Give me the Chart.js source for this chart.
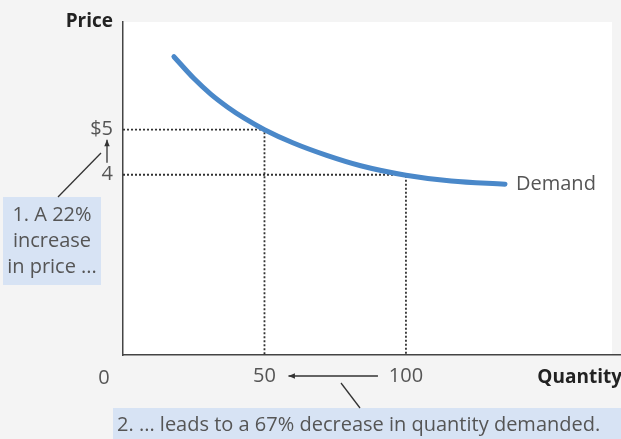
<!DOCTYPE html>
<html>
<head>
<meta charset="utf-8">
<script src="https://cdn.jsdelivr.net/npm/chart.js@4.4.0/dist/chart.umd.min.js"></script>
<style>
  html, body { margin: 0; padding: 0; background: #f4f4f4; }
  #wrap { width: 621px; height: 439px; }
</style>
</head>
<body>
<div id="wrap"><canvas id="demand" width="621" height="439"></canvas></div>
<script>
// demand curve
const quantity = [18, 25, 31, 37, 43, 50, 60, 72, 84, 100, 116, 135];
const price = [6.62, 6.14, 5.79, 5.5, 5.25, 5.0, 4.71, 4.43, 4.2, 3.99, 3.86, 3.79];

// the two marked points on the curve
const markQty = [50, 100];
const markPrice = [5, 4];

const xTicks = [50, 100];
const yTicks = [4, 5];
const yTickLabels = { 4: '4', 5: '$5' };

const FONT = '"Open Sans", sans-serif';
const TEXT = '#555';

function dotted(i) {
    return {
        type: 'line',
        data: [
            { x: 0, y: markPrice[i] },
            { x: markQty[i], y: markPrice[i] },
            { x: markQty[i], y: 0 }
        ],
        borderColor: '#333',
        borderWidth: 1.8,
        borderDash: [2, 2],
        pointRadius: 0,
        tension: 0
    };
}

function arrow(ctx, x1, y1, x2, y2) {
    ctx.beginPath();
    ctx.moveTo(x1, y1);
    ctx.lineTo(x2, y2);
    ctx.stroke();
    const a = Math.atan2(y2 - y1, x2 - x1);
    ctx.beginPath();
    ctx.moveTo(x2, y2);
    ctx.lineTo(x2 - 7 * Math.cos(a - 0.4), y2 - 7 * Math.sin(a - 0.4));
    ctx.lineTo(x2 - 7 * Math.cos(a + 0.4), y2 - 7 * Math.sin(a + 0.4));
    ctx.closePath();
    ctx.fill();
}

// background, boxes and the notes round the chart
const notes = {
    id: 'notes',
    beforeDraw(chart) {
        const c = chart.ctx, a = chart.chartArea;
        c.save();
        c.fillStyle = '#f4f4f4';
        c.fillRect(0, 0, chart.width, chart.height);
        c.fillStyle = '#ffffff';
        c.fillRect(a.left, a.top, a.right - a.left - 9, a.bottom - a.top);
        c.fillStyle = '#d7e3f4';
        c.fillRect(3, 197, 98, 88);
        c.fillRect(113, 408, 508, 31);
        c.restore();
    },
    afterDraw(chart) {
        const c = chart.ctx;
        const xs = chart.scales.x, ys = chart.scales.y;
        c.save();
        c.fillStyle = '#222';
        c.font = 'bold 19px ' + FONT;
        c.textBaseline = 'middle';
        c.textAlign = 'right';
        c.fillText('Price', 113, 22);
        c.fillText('Quantity', 622, 378);

        c.font = '20px ' + FONT;
        c.fillStyle = TEXT;
        c.textAlign = 'center';
        c.fillText('0', xs.left - 19, 378);
        c.fillText('1. A 22%', 52, 215);
        c.fillText('increase', 52, 241);
        c.fillText('in price ...', 52, 267);
        c.textAlign = 'left';
        c.fillText('Demand', 516, ys.getPixelForValue(price[price.length - 1]));
        c.fillText('2. ... leads to a 67% decrease in quantity demanded.', 117, 425);

        c.strokeStyle = '#333';
        c.fillStyle = '#333';
        c.lineWidth = 1.3;
        // price rise arrow
        arrow(c, 107, ys.getPixelForValue(4) - 12, 107, ys.getPixelForValue(5) + 10);
        c.beginPath();
        c.moveTo(58, 197);
        c.lineTo(101, 153);
        c.stroke();
        // quantity fall arrow
        arrow(c, xs.getPixelForValue(100) - 28, 376, xs.getPixelForValue(50) + 24, 376);
        c.beginPath();
        c.moveTo(341, 383);
        c.lineTo(360, 408);
        c.stroke();
        c.restore();
    }
};

new Chart('demand', {
    data: {
        datasets: [{
            type: 'line',
            label: 'Demand',
            data: quantity.map((q, i) => ({ x: q, y: price[i] })),
            borderColor: '#4a88c9',
            borderWidth: 5,
            borderCapStyle: 'round',
            pointRadius: 0,
            cubicInterpolationMode: 'monotone'
        }, dotted(0), dotted(1)]
    },
    plugins: [notes],
    options: {
        responsive: false,
        animation: false,
        layout: { padding: { top: 15, left: 0, right: 0, bottom: 0 } },
        scales: {
            x: {
                type: 'linear',
                min: 0,
                max: 176,
                grid: { display: false, drawTicks: false },
                border: { color: '#444', width: 1.5 },
                afterBuildTicks: s => { s.ticks = xTicks.map(v => ({ value: v })); },
                afterFit: s => { s.height = 84; },
                ticks: {
                    color: TEXT,
                    font: { family: FONT, size: 20 },
                    padding: 9,
                    maxRotation: 0
                }
            },
            y: {
                type: 'linear',
                min: 0,
                max: 7.39,
                grid: { display: false, drawTicks: false },
                border: { color: '#444', width: 1.5 },
                afterBuildTicks: s => { s.ticks = yTicks.map(v => ({ value: v })); },
                afterFit: s => { s.width = 123; },
                ticks: {
                    color: TEXT,
                    font: { family: FONT, size: 20 },
                    padding: 10,
                    callback: v => yTickLabels[v]
                }
            }
        },
        plugins: {
            legend: { display: false },
            tooltip: { enabled: false }
        }
    }
});
</script>
</body>
</html>
